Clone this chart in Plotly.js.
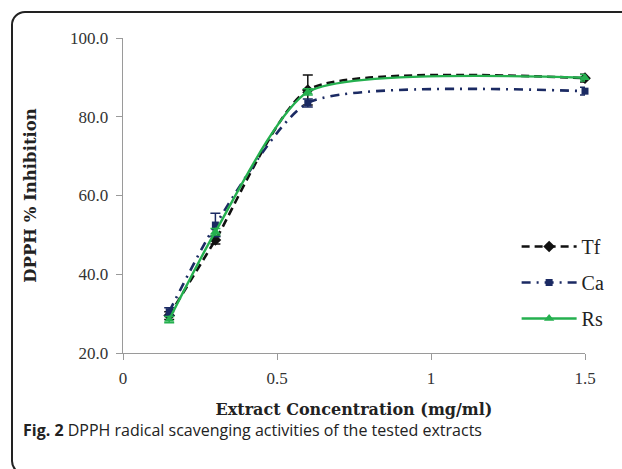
<!DOCTYPE html>
<html>
<head>
<meta charset="utf-8">
<script src="https://cdn.plot.ly/plotly-3.0.1.min.js"></script>
<style>
html,body{margin:0;padding:0;background:#fff;}
#wrap{position:relative;width:622px;height:469px;overflow:hidden;}
#plot{position:absolute;left:0;top:0;width:622px;height:469px;}
#frame{position:absolute;left:11px;top:11px;width:700px;height:460px;border:2px solid #222;border-radius:14px;pointer-events:none;}
</style>
</head>
<body>
<div id="wrap">
<div id="plot"></div>
<div id="frame"></div>
</div>
<script>
const conc = [0.15, 0.3, 0.6, 1.5];
const tf = [29.5, 48.7, 86.8, 89.8];
const tfErr = [1.0, 1.0, 3.8, 1.0];
const ca = [30.5, 52.5, 83.5, 86.5];
const caErr = [1.0, 3.0, 1.0, 1.0];
const rs = [28.5, 50.8, 86.3, 89.9];
const rsErr = [0.8, 0.8, 0.8, 0.8];
const names = ['Tf', 'Ca', 'Rs'];
const xTicks = [0, 0.5, 1, 1.5];
const xTickText = ['0', '0.5', '1', '1.5'];
const yTicks = [20, 40, 60, 80, 100];
const yTickText = ['20.0', '40.0', '60.0', '80.0', '100.0'];

const serif = 'Liberation Serif, Times New Roman, serif';
const titleSerif = 'DejaVu Serif, Liberation Serif, serif';

const traces = [
  {x: conc, y: tf, name: names[0], legendgroup: 'a', mode: 'lines+markers', type: 'scatter', cliponaxis: false,
   line: {color: '#111111', width: 2.6, dash: '8px,5px', shape: 'spline', smoothing: 0.6},
   marker: {symbol: 'diamond', size: 9, color: '#111111'},
   error_y: {type: 'data', array: tfErr, visible: true, color: '#111111', thickness: 1.5, width: 5}},
  {x: conc, y: ca, name: names[1], legendgroup: 'b', mode: 'lines+markers', type: 'scatter', cliponaxis: false,
   line: {color: '#1b2a63', width: 2.6, dash: '9px,6px,2px,6px', shape: 'spline', smoothing: 0.6},
   marker: {symbol: 'square', size: 7, color: '#1b2a63'},
   error_y: {type: 'data', array: caErr, visible: true, color: '#1b2a63', thickness: 1.5, width: 5}},
  {x: conc, y: rs, name: names[2], legendgroup: 'c', mode: 'lines+markers', type: 'scatter', cliponaxis: false,
   line: {color: '#25b04f', width: 2.4, shape: 'spline', smoothing: 0.6},
   marker: {symbol: 'triangle-up', size: 9, color: '#25b04f'},
   error_y: {type: 'data', array: rsErr, visible: true, color: '#25b04f', thickness: 1.5, width: 5}}
];

const layout = {
  width: 622, height: 469,
  margin: {l: 123, r: 35, t: 38, b: 116},
  paper_bgcolor: 'rgba(0,0,0,0)', plot_bgcolor: 'rgba(0,0,0,0)',
  showlegend: true,
  legend: {x: 0.852, xanchor: 'left', y: 0.40, yanchor: 'top', tracegroupgap: 7, itemwidth: 55,
           font: {family: serif, size: 20, color: '#222'}, bgcolor: 'rgba(0,0,0,0)'},
  xaxis: {range: [0, 1.5], tickvals: xTicks, ticktext: xTickText, showgrid: false, zeroline: false,
          showline: true, linecolor: '#9a9a9a', linewidth: 1.3, ticks: 'outside', ticklen: 6, tickcolor: '#9a9a9a',
          ticklabelstandoff: 3,
          tickfont: {family: serif, size: 17, color: '#333'},
          title: {text: '<b>Extract Concentration (mg/ml)</b>', font: {family: titleSerif, size: 16, color: '#222'}, standoff: 17}},
  yaxis: {range: [20, 100], tickvals: yTicks, ticktext: yTickText, showgrid: false, zeroline: false,
          showline: true, linecolor: '#9a9a9a', linewidth: 1.3, ticks: 'outside', ticklen: 6, tickcolor: '#9a9a9a',
          ticklabelstandoff: 4,
          tickfont: {family: serif, size: 17, color: '#333'},
          title: {text: '<b>DPPH % Inhibition</b>', font: {family: titleSerif, size: 16.5, color: '#222'}, standoff: 29}},
  annotations: [
    {xref: 'paper', yref: 'paper', x: (21 - 123) / 464, y: (353 - 430) / 315, xanchor: 'left', yanchor: 'middle',
     showarrow: false, align: 'left',
     text: '<b>Fig. 2</b> DPPH radical scavenging activities of the tested extracts',
     font: {family: 'Open Sans, Noto Sans, sans-serif', size: 16, color: '#222'}}
  ]
};

Plotly.newPlot('plot', traces, layout, {displayModeBar: false, staticPlot: true});
</script>
</body>
</html>
